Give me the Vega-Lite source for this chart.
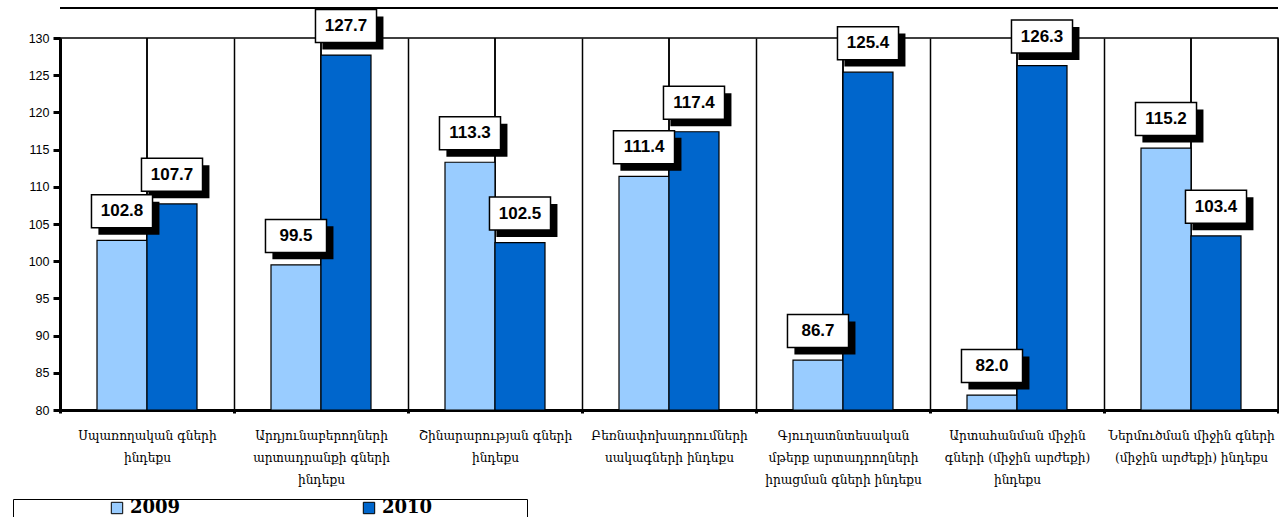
{
  "$schema": "https://vega.github.io/schema/vega-lite/v6.json",
  "width": 1218,
  "height": 372,
  "autosize": {"type": "none"},
  "padding": {"left": 60, "top": 38, "right": 1, "bottom": 107},
  "background": "white",
  "config": {
    "view": {"stroke": "black", "strokeWidth": 1.5},
    "axis": {"labelColor": "black", "domainColor": "black", "tickColor": "black"}
  },
  "data": {
    "values": [
      {"cat": "Սպառողական գների|ինդեքս", "year": "2009", "value": 102.8},
      {"cat": "Սպառողական գների|ինդեքս", "year": "2010", "value": 107.7},
      {"cat": "Արդյունաբերողների|արտադրանքի գների|ինդեքս", "year": "2009", "value": 99.5},
      {"cat": "Արդյունաբերողների|արտադրանքի գների|ինդեքս", "year": "2010", "value": 127.7},
      {"cat": "Շինարարության գների|ինդեքս", "year": "2009", "value": 113.3},
      {"cat": "Շինարարության գների|ինդեքս", "year": "2010", "value": 102.5},
      {"cat": "Բեռնափոխադրումների|սակագների ինդեքս", "year": "2009", "value": 111.4},
      {"cat": "Բեռնափոխադրումների|սակագների ինդեքս", "year": "2010", "value": 117.4},
      {"cat": "Գյուղատնտեսական|մթերք արտադրողների|իրացման գների ինդեքս", "year": "2009", "value": 86.7},
      {"cat": "Գյուղատնտեսական|մթերք արտադրողների|իրացման գների ինդեքս", "year": "2010", "value": 125.4},
      {"cat": "Արտահանման միջին|գների (միջին արժեքի)|ինդեքս", "year": "2009", "value": 82.0},
      {"cat": "Արտահանման միջին|գների (միջին արժեքի)|ինդեքս", "year": "2010", "value": 126.3},
      {"cat": "Ներմուծման միջին գների|(միջին արժեքի) ինդեքս", "year": "2009", "value": 115.2},
      {"cat": "Ներմուծման միջին գների|(միջին արժեքի) ինդեքս", "year": "2010", "value": 103.4}
    ]
  },
  "encoding": {
    "x": {
      "field": "cat",
      "type": "nominal",
      "sort": null,
      "title": null,
      "scale": {"paddingInner": 0, "paddingOuter": 0},
      "axis": {
        "labelAngle": 0,
        "labelExpr": "split(datum.label, '|')",
        "labelFont": "DejaVu Serif",
        "labelFontSize": 12.2,
        "labelLineHeight": 22,
        "labelPadding": 16,
        "labelLimit": 400,
        "tickBand": "extent",
        "tickSize": 3,
        "tickWidth": 3,
        "domainWidth": 3,
        "grid": true,
        "gridColor": "black",
        "gridWidth": 1.5,
        "gridOpacity": 1
      }
    },
    "y": {
      "field": "value",
      "type": "quantitative",
      "title": null,
      "scale": {"domain": [80, 130], "nice": false, "zero": false},
      "axis": {
        "values": [80, 85, 90, 95, 100, 105, 110, 115, 120, 125, 130],
        "grid": false,
        "labelOverlap": false,
        "labelFont": "Liberation Sans",
        "labelFontSize": 12.5,
        "labelPadding": 4,
        "tickSize": 7,
        "tickWidth": 3,
        "domainWidth": 3
      }
    }
  },
  "layer": [
    {
      "mark": {"type": "rule", "color": "black", "strokeWidth": 1.5},
      "encoding": {"y": null}
    },
    {
      "mark": {"type": "bar", "stroke": "black", "strokeWidth": 1.2},
      "encoding": {
        "xOffset": {"field": "year", "type": "nominal", "scale": {"paddingInner": 0, "paddingOuter": 0.74}},
        "y2": {"datum": 80},
        "color": {
          "field": "year",
          "type": "nominal",
          "scale": {"domain": ["2009", "2010"], "range": ["#99CCFF", "#0066CC"]},
          "legend": {
            "orient": "none",
            "legendX": -47,
            "legendY": 461,
            "direction": "horizontal",
            "title": "\u00a0",
            "titleOrient": "right",
            "titlePadding": 95,
            "fillColor": "white",
            "strokeColor": "black",
            "padding": 0,
            "symbolType": "square",
            "symbolSize": 130,
            "symbolStrokeColor": "black",
            "symbolStrokeWidth": 1,
            "symbolOffset": 95,
            "labelFont": "DejaVu Serif",
            "labelFontWeight": "bold",
            "labelFontSize": 18,
            "labelColor": "black",
            "labelOffset": 4,
            "columnPadding": 84
          }
        }
      }
    },
    {
      "mark": {
        "type": "point",
        "shape": "M-1.43,-2.34L2.27,-2.34L2.27,-0.34L-1.43,-0.34Z",
        "size": 1089,
        "filled": true,
        "fill": "black",
        "strokeWidth": 0,
        "opacity": 1
      },
      "encoding": {
        "xOffset": {"field": "year", "type": "nominal"}
      }
    },
    {
      "mark": {
        "type": "point",
        "shape": "M-1.85,-2.76L1.85,-2.76L1.85,-0.76L-1.85,-0.76Z",
        "size": 1089,
        "filled": true,
        "fill": "white",
        "stroke": "black",
        "strokeWidth": 1.5,
        "opacity": 1
      },
      "encoding": {
        "xOffset": {"field": "year", "type": "nominal"}
      }
    },
    {
      "mark": {
        "type": "text",
        "dy": -29,
        "baseline": "middle",
        "font": "Liberation Sans",
        "fontWeight": "bold",
        "fontSize": 17,
        "color": "black"
      },
      "encoding": {
        "xOffset": {"field": "year", "type": "nominal"},
        "text": {"field": "value", "type": "quantitative", "format": ".1f"}
      }
    },
    {
      "mark": {"type": "rule", "color": "black", "strokeWidth": 1.5},
      "encoding": {"x": null, "y": {"datum": 134.03, "type": "quantitative"}}
    }
  ]
}
